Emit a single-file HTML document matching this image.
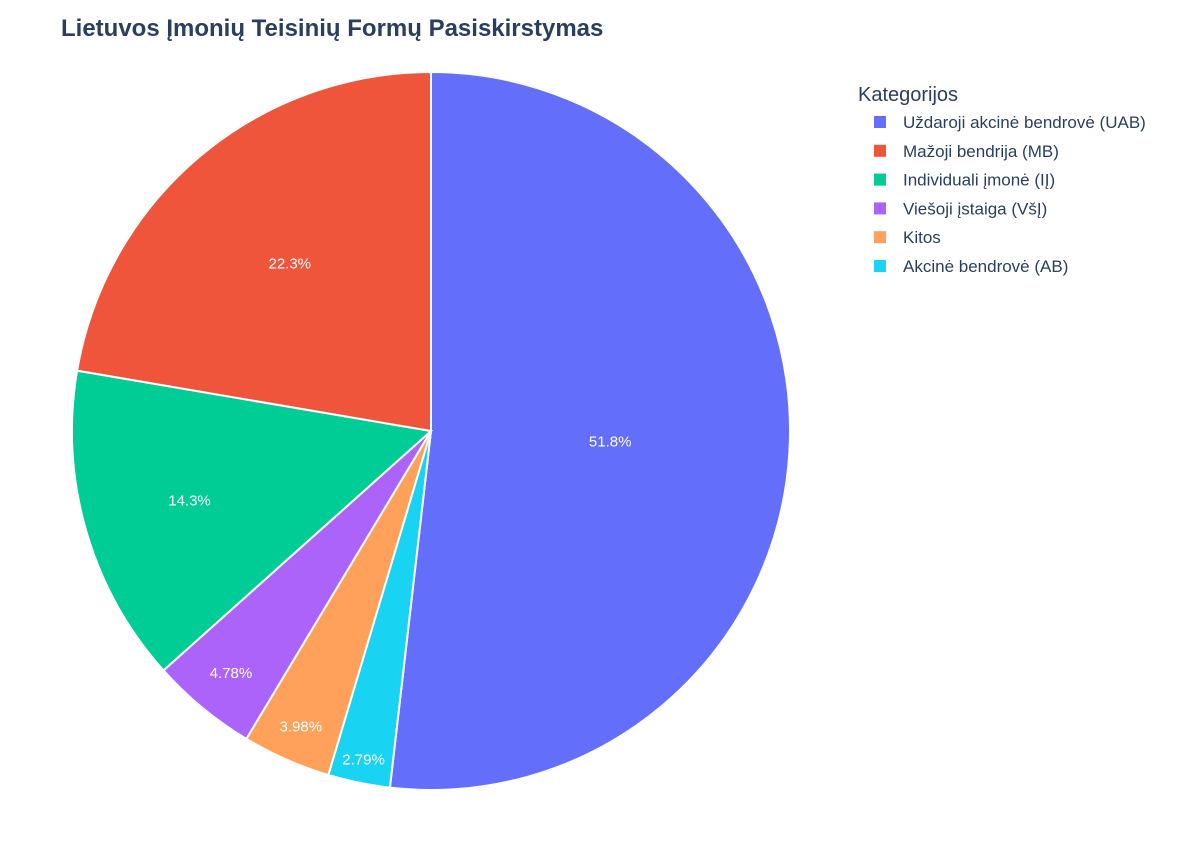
<!DOCTYPE html>
<html><head><meta charset="utf-8">
<style>
body{margin:0;background:#fff;}
svg text{font-family:"Liberation Sans",Arial,sans-serif;}
</style></head>
<body>
<svg id="chart" width="1200" height="840" xmlns="http://www.w3.org/2000/svg">
<rect width="1200" height="840" fill="#fff"/>
<text x="61" y="36" font-size="24" font-weight="bold" fill="#2a3f5f">Lietuvos Įmonių Teisinių Formų Pasiskirstymas</text>
<g id="slices"></g>
<g id="legend">
<text x="858" y="101" font-size="20" fill="#2a3f5f">Kategorijos</text>
</g>
</svg>
<script>
const categories = ["Uždaroji akcinė bendrovė (UAB)","Akcinė bendrovė (AB)","Kitos","Viešoji įstaiga (VšĮ)","Individuali įmonė (IĮ)","Mažoji bendrija (MB)"];
const values = [51.8, 2.79, 3.98, 4.78, 14.3, 22.3];
const valueLabels = ["51.8%","2.79%","3.98%","4.78%","14.3%","22.3%"];
const legendOrder = [0,5,4,3,2,1];
const colors = ["#636efa","#19d3f3","#FFA15A","#ab63fa","#00cc96","#EF553B"];

const NS="http://www.w3.org/2000/svg";
const cx=431, cy=431, R=359;
const total=values.reduce((a,b)=>a+b,0);
const g=document.getElementById('slices');
function pt(frac,r){const a=frac*2*Math.PI;return [cx+r*Math.sin(a), cy-r*Math.cos(a)];}
function labelFrac(p){return p>40?0.5:p>18?0.61:p>10?0.7:Math.min(0.95,0.875+(4.78-p)*0.03);}
let cum=0;
values.forEach((v,i)=>{
  const f0=cum/total, f1=(cum+v)/total; cum+=v;
  const [x0,y0]=pt(f0,R),[x1,y1]=pt(f1,R);
  const large=(f1-f0)>0.5?1:0;
  const p=document.createElementNS(NS,'path');
  p.setAttribute('d',`M${cx},${cy} L${x0},${y0} A${R},${R} 0 ${large} 1 ${x1},${y1} Z`);
  p.setAttribute('fill',colors[i]);p.setAttribute('stroke','#fff');p.setAttribute('stroke-width','2');
  
  
  g.appendChild(p);
});
cum=0;
values.forEach((v,i)=>{
  const fm=(cum+v/2)/total; cum+=v;
  const pct=v/total*100;
  const [lx,ly]=pt(fm,R*labelFrac(pct));
  const t=document.createElementNS(NS,'text');
  t.setAttribute('x',lx);t.setAttribute('y',ly+5);
  t.setAttribute('text-anchor','middle');t.setAttribute('font-size','15');t.setAttribute('fill','#fff');
  t.textContent=valueLabels[i];
  
  
  g.appendChild(t);
});
const lg=document.getElementById('legend');
legendOrder.forEach((idx,k)=>{
  const y=122+k*28.8;
  const r=document.createElementNS(NS,'rect');
  r.setAttribute('x',874);r.setAttribute('y',y-6);r.setAttribute('width',12);r.setAttribute('height',12);
  r.setAttribute('fill',colors[idx]);
  
  
  lg.appendChild(r);
  const t=document.createElementNS(NS,'text');
  t.setAttribute('x',903);t.setAttribute('y',y+6);t.setAttribute('font-size','17');t.setAttribute('fill','#2a3f5f');
  t.textContent=categories[idx];
  
  
  lg.appendChild(t);
});
</script>
</body></html>
